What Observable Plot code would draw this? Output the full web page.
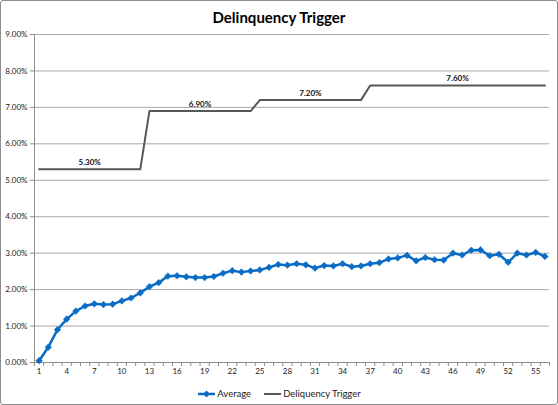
<!DOCTYPE html>
<html>
<head>
<meta charset="utf-8">
<script src="https://cdn.jsdelivr.net/npm/d3@7"></script>
<script src="https://cdn.jsdelivr.net/npm/@observablehq/plot@0.6"></script>
<style>
  html, body { margin: 0; padding: 0; background: #fff; }
  #chart {
    position: relative; box-sizing: border-box; width: 558px; height: 405px;
    border: 1px solid #8c8c8c; border-radius: 3px; background: #fff; overflow: hidden;
    font-family: Lato, "Open Sans", sans-serif;
  }
  #title { height: 29px; box-sizing: border-box; padding-top: 8px; line-height: 16px;
    text-align: center; font-weight: bold; font-size: 15px; color: #000; }
  #legend { height: 23px; box-sizing: border-box; padding-top: 4px; line-height: 12px;
    display: flex; justify-content: center; align-items: center; font-size: 9.5px; color: #222; }
  .item { display: flex; align-items: center; margin: 0 6px; }
  .item svg { margin-right: 1px; }
</style>
</head>
<body>
<div id="chart">
  <div id="title">Delinquency Trigger</div>
  <div id="plot"></div>
  <div id="legend"></div>
</div>
<script>
// Categories (period index)
const periods = [1,2,3,4,5,6,7,8,9,10,11,12,13,14,15,16,17,18,19,20,21,22,23,24,25,26,27,28,
  29,30,31,32,33,34,35,36,37,38,39,40,41,42,43,44,45,46,47,48,49,50,51,52,53,54,55,56];
// Average delinquency (%)
const average = [0.05,0.42,0.90,1.19,1.41,1.55,1.61,1.59,1.60,1.69,1.77,1.91,2.08,2.19,2.37,2.38,
  2.35,2.33,2.33,2.36,2.45,2.52,2.48,2.51,2.54,2.61,2.69,2.67,2.71,2.68,2.59,2.66,2.65,2.71,2.63,
  2.65,2.71,2.74,2.84,2.87,2.94,2.79,2.88,2.82,2.81,3.00,2.95,3.08,3.09,2.93,2.97,2.75,3.00,2.95,
  3.02,2.91];
// Delinquency trigger step levels (%)
const triggerStart = [1, 13, 25, 37];
const triggerEnd = [12, 24, 36, 56];
const triggerValue = [5.30, 6.90, 7.20, 7.60];
// Tick labels
const yTicks = [0,1,2,3,4,5,6,7,8,9];
const xTickLabels = [1,4,7,10,13,16,19,22,25,28,31,34,37,40,43,46,49,52,55];

const avgData = periods.map((p, i) => ({period: p, value: average[i]}));
const trigData = periods.map(p => {
  const k = triggerStart.findIndex((s, j) => p >= s && p <= triggerEnd[j]);
  return {period: p, value: triggerValue[k]};
});
const segLabels = triggerValue.map((v, j) => ({period: (triggerStart[j] + triggerEnd[j]) / 2, value: v}));
const boundaries = [0, ...periods].map(p => p + 0.5);

const blue = "#0a6cc4";
const gray = "#575757";
const fmt = d => d.toFixed(2) + "%";

const plot = Plot.plot({
  width: 556, height: 350,
  marginTop: 4, marginBottom: 18, marginLeft: 33, marginRight: 8,
  style: {fontFamily: "Lato, 'Open Sans', sans-serif", fontSize: "8px", color: "#222", background: "#fff"},
  x: {type: "linear", domain: [0.5, 56.5], label: null},
  y: {type: "linear", domain: [0, 9], label: null},
  marks: [
    Plot.gridY(yTicks.filter(d => d > 0), {stroke: "#a9a9a9", strokeOpacity: 1, strokeWidth: 1}),
    Plot.axisY(yTicks, {tickFormat: fmt, tickSize: 4, tickPadding: 3, stroke: "#8c8c8c", fontSize: 8, label: null}),
    Plot.ruleX([0.5], {stroke: "#8c8c8c"}),
    Plot.ruleY([0], {stroke: "#8c8c8c"}),
    Plot.axisX(boundaries, {tickSize: 4, tickFormat: () => "", stroke: "#8c8c8c", label: null}),
    Plot.axisX(xTickLabels, {tickSize: 0, tickPadding: 6, fontSize: 8, label: null}),
    Plot.line(trigData, {x: "period", y: "value", stroke: gray, strokeWidth: 2}),
    Plot.text(segLabels, {x: "period", y: "value", text: d => fmt(d.value), dy: -7,
      fontWeight: "bold", fontSize: 8, fill: "#111"}),
    Plot.line(avgData, {x: "period", y: "value", stroke: blue, strokeWidth: 2.5}),
    Plot.dot(avgData, {x: "period", y: "value", symbol: "diamond2", r: 3, fill: blue, stroke: blue, strokeWidth: 0.5})
  ]
});
document.getElementById("plot").appendChild(plot);

// Legend
const legend = d3.select("#legend");
const items = [
  {name: "Average", color: blue, marker: true},
  {name: "Deliquency Trigger", color: gray, marker: false}
];
items.forEach(it => {
  const div = legend.append("div").attr("class", "item");
  const s = div.append("svg").attr("width", 19).attr("height", 10);
  s.append("line").attr("x1", 1).attr("x2", 18).attr("y1", 5).attr("y2", 5)
    .attr("stroke", it.color).attr("stroke-width", it.marker ? 2.5 : 2);
  if (it.marker) s.append("path").attr("d", "M9.5,1.5L13,5L9.5,8.5L6,5Z").attr("fill", it.color);
  div.append("span").text(it.name);
});
</script>
</body>
</html>
